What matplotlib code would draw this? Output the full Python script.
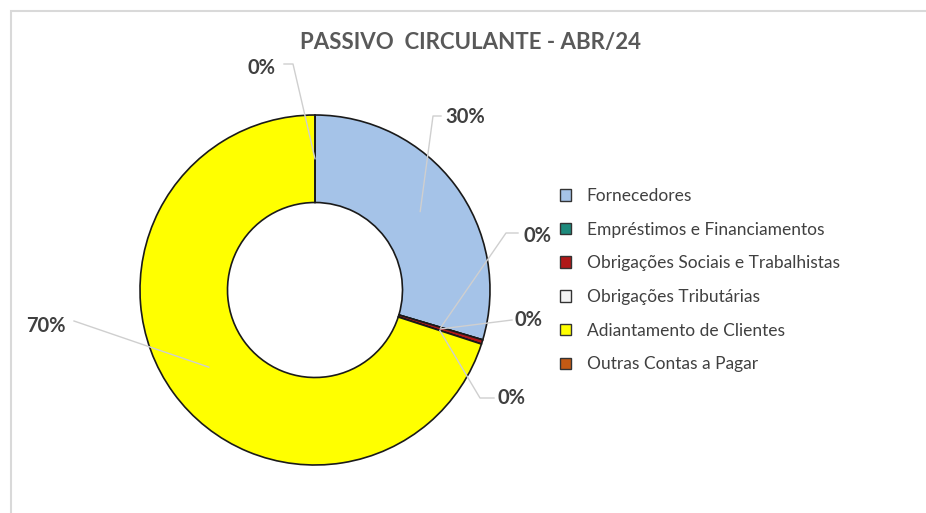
import numpy as np
import matplotlib.pyplot as plt
from matplotlib.patches import Rectangle

# data
categorias = ["Fornecedores", "Empréstimos e Financiamentos",
              "Obrigações Sociais e Trabalhistas", "Obrigações Tributárias",
              "Adiantamento de Clientes", "Outras Contas a Pagar"]
valores = [29.6, 0.0, 0.4, 0.0, 70.0, 0.0]
cores = ["#a5c3e8", "#1d8a7c", "#b01818", "#f4f4f4", "#ffff00", "#c45a14"]
titulo = "PASSIVO  CIRCULANTE - ABR/24"

W, H = 926, 513
CX, CY, R = 315, 290, 175

plt.rcParams['font.family'] = ['Lato', 'DejaVu Sans']
fig = plt.figure(figsize=(W / 100, H / 100), dpi=100)
fig.patch.set_facecolor('white')

# light chart frame
fig.patches.append(Rectangle((11 / W, -0.1), 1.2, (H - 11) / H + 0.1,
                             transform=fig.transFigure, fill=False,
                             edgecolor='#d9d9d9', linewidth=1.5))

ax = fig.add_axes([(CX - R) / W, (H - CY - R) / H, 2 * R / W, 2 * R / H])
wedges, _ = ax.pie(valores, colors=cores, startangle=90, counterclock=False,
                   radius=1.0,
                   wedgeprops=dict(width=0.5, edgecolor='#1a1a1a', linewidth=1.2))
ax.set_xlim(-1, 1)
ax.set_ylim(-1, 1)
ax.set_aspect('equal')
ax.axis('off')


def px(x, y):
    return (x - CX) / R, (CY - y) / R


# label centres and leader line points (pixels)
rotulos_pos = [(465, 117), (538, 236), (529, 320), (512, 398), (46, 326), (262, 68)]
cotovelos = [(433, 116), (506, 233), None, (480, 398), None, (293, 64)]
pontas = [(441, 116), (518, 233), (512, 320), (494, 398), (74, 321), (284, 64)]

total = sum(valores)
acum = 0.0
for i, v in enumerate(valores):
    mid = acum + v / 2
    acum += v
    ang = np.deg2rad(90 - 360 * mid / total)
    sx, sy = 0.75 * np.cos(ang), 0.75 * np.sin(ang)
    lx, ly = px(*rotulos_pos[i])
    txt = f"{round(v / total * 100):.0f}%"
    ax.text(lx, ly, txt, ha='center', va='center', fontsize=14.5,
            fontweight='bold', color='#404040', clip_on=False)
    xs, ys = [sx], [sy]
    if cotovelos[i] is not None:
        ex, ey = px(*cotovelos[i])
        xs.append(ex)
        ys.append(ey)
    end = px(*pontas[i])
    xs.append(end[0])
    ys.append(end[1])
    ax.plot(xs, ys, color='#cfcfcf', linewidth=1.0, clip_on=False, zorder=5)

fig.text(470 / W, 1 - 42 / H, titulo, ha='center', va='center',
         fontsize=16, fontweight='bold', color='#595959')

leg = fig.legend(wedges, categorias, loc='upper left',
                 bbox_to_anchor=(553 / W, 1 - 181 / H), frameon=False,
                 fontsize=12.5, labelcolor='#404040', handlelength=0.65,
                 handleheight=0.65, handletextpad=0.9, labelspacing=1.02,
                 borderaxespad=0)
for h in leg.legend_handles:
    h.set_edgecolor('#333333')
    h.set_linewidth(1.0)

fig.savefig('out.png', dpi=100, facecolor='white')
